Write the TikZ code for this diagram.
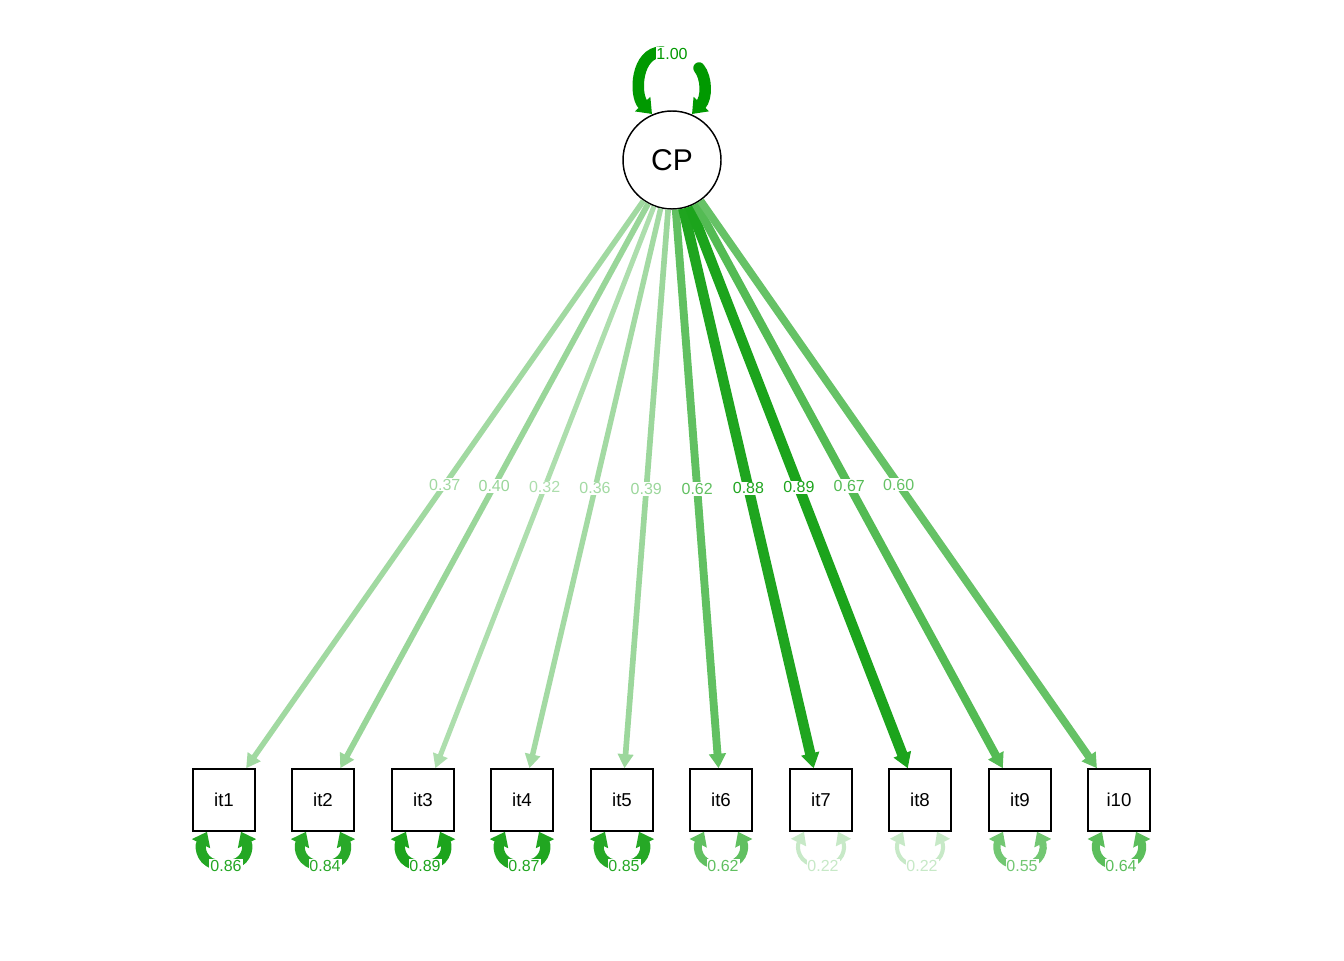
\documentclass[tikz,border=0pt]{standalone}
\usepackage{fontspec}
\setmainfont{Liberation Sans}
\usetikzlibrary{arrows.meta}
\definecolor{pg}{RGB}{0,153,0}
\tikzset{
  lat/.style={circle, draw, line width=1.1pt, minimum size=73.5pt, inner sep=0pt,
    font=\fontsize{22.5}{27}\selectfont},
  man/.style={rectangle, draw, line width=1.1pt, minimum size=46.5pt, inner sep=0pt,
    font=\fontsize{14}{17}\selectfont},
  elab/.style={fill=white, inner sep=0.7pt, text=pg!#1,
    font=\fontsize{12}{14}\selectfont},
  wt/.style={draw=pg!#1, line width=1.5pt+0.07125pt*#1},
  load/.style={wt=#1, -{Triangle[length=9.75pt 0.2, width=9pt 0.55]}},
  half/.style={wt=#1, line cap=round, -{Triangle[length=8.5pt 0.2, width=10.5pt 0.55]}},
}
\begin{document}
\begin{tikzpicture}[x=0.75pt, y=-0.75pt]
\useasboundingbox (0,0) rectangle (1344,960);

% latent factor
\node[lat] (CP) at (672,160) {CP};

% indicators
\foreach \n/\x in {it1/224, it2/323, it3/423, it4/522, it5/622,
                   it6/721, it7/821, it8/920, it9/1020, i10/1119}
  \node[man] (\n) at (\x,800) {\n};

% factor loadings
\foreach \n/\w/\v in {it1/37/0.37, it2/40/0.40, it3/32/0.32, it4/36/0.36, it5/39/0.39,
                      it6/62/0.62, it7/88/0.88, it8/89/0.89, it9/67/0.67, i10/60/0.60}
  \draw[load=\w] (CP) -- node[elab=\w] {\v} (\n);

% factor variance
\draw[half=100] ([shift={(-10,-108)}]CP.center)
  .. controls ([shift={(-36,-108)}]CP.center) and ([shift={(-38,-65)}]CP.center)
  .. ([shift={(-20,-46)}]CP.center);
\draw[half=100] ([shift={(27,-92)}]CP.center)
  .. controls ([shift={(35,-82)}]CP.center) and ([shift={(35,-62)}]CP.center)
  .. ([shift={(20,-46)}]CP.center);
\node[elab=100] (vCP) at ([shift={(0,-106)}]CP.center) {1.00};

% residual variances
\foreach \n/\w/\v in {it1/86/0.86, it2/84/0.84, it3/89/0.89, it4/87/0.87, it5/85/0.85,
                      it6/62/0.62, it7/22/0.22, it8/22/0.22, it9/55/0.55, i10/64/0.64}{
  \draw[half=\w] ([shift={(-4,33)}]\n.south)
    .. controls ([shift={(-22,33)}]\n.south) and ([shift={(-25,16)}]\n.south)
    .. ([shift={(-17,0)}]\n.south);
  \draw[half=\w] ([shift={(4,33)}]\n.south)
    .. controls ([shift={(22,33)}]\n.south) and ([shift={(25,16)}]\n.south)
    .. ([shift={(17,0)}]\n.south);
  \node[elab=\w] (r\n) at ([shift={(2,34)}]\n.south) {\v};
}
\end{tikzpicture}
\end{document}
